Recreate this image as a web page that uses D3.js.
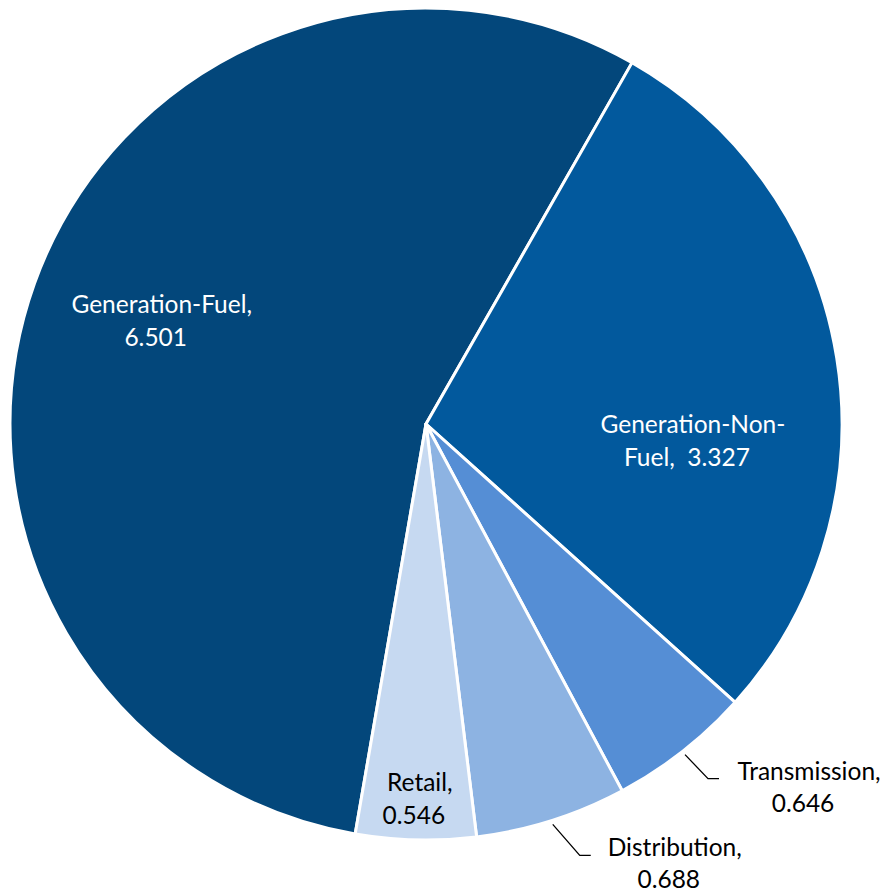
<!DOCTYPE html>
<html>
<head>
<meta charset="utf-8">
<script src="https://cdn.jsdelivr.net/npm/d3@7"></script>
<style>
  body { margin: 0; background: #fff; }
  svg text { font-family: Lato, "Open Sans", sans-serif; white-space: pre; }
</style>
</head>
<body>
<svg width="884" height="895"></svg>
<script>
// slices in drawing order, clockwise
var categories = ["Generation-Fuel", "Generation-Non-Fuel", "Transmission", "Distribution", "Retail"];
var values = [6.501, 3.327, 0.646, 0.688, 0.546];
var colors = ["#03477b", "#02599d", "#558ed5", "#8db3e2", "#c6d9f1"];
// label lines as shown in the chart
var labelLines = [
  ["Generation-Fuel,", "6.501"],
  ["Generation-Non-", "Fuel,  3.327"],
  ["Transmission,", "0.646"],
  ["Distribution,", "0.688"],
  ["Retail,", "0.546"]
];
var outside = [false, false, true, true, false];

var svg = d3.select("svg"),
  cx = 426, cy = 424, radius = 416,
  g = svg.append("g").attr("transform", "translate(" + cx + "," + cy + ")");

var data = categories.map(function(c, i) {
  return { name: c, value: values[i], color: colors[i], lines: labelLines[i], outside: outside[i] };
});

var start = 189.8 * Math.PI / 180;
var pie = d3.pie()
  .sort(null)
  .value(function(d) { return d.value; })
  .startAngle(start)
  .endAngle(start + 2 * Math.PI);

var arc = d3.arc().innerRadius(0).outerRadius(radius);
var arcs = pie(data);

g.selectAll("path.slice")
  .data(arcs)
  .enter()
  .append("path")
  .attr("class", "slice")
  .attr("d", arc)
  .style("fill", function(d) { return d.data.color; })
  .style("stroke", "#fff")
  .style("stroke-width", 3)
  .style("stroke-linejoin", "round");

function polar(a, r) {
  return [r * Math.sin(a), -r * Math.cos(a)];
}
function mid(d) { return (d.startAngle + d.endAngle) / 2; }

// inside labels: placed along a radius, nudged a little like the original
var insideOffset = {
  "Generation-Fuel": { r: 0.675, da: 0.0, dx: 0, dy: -8 },
  "Generation-Non-Fuel": { r: 0.643, da: 0.225, dx: 0, dy: 0 },
  "Retail": { r: 0.903, da: 0.0, dx: 3, dy: 0 }
};
// outside labels: leader line elbow and text shift
var outsideOffset = {
  "Transmission": { ex: 23, ey: 24, tx: 90 },
  "Distribution": { ex: 27, ey: 31, tx: 84 }
};

var lineGap = 33;
var fontSize = "24.5px";

arcs.forEach(function(d) {
  var lbl = g.append("g").attr("class", "label");
  if (!d.data.outside) {
    var o = insideOffset[d.data.name];
    var p = polar(mid(d) + o.da, radius * o.r);
    var x = p[0] + o.dx, y = p[1] + o.dy;
    var dark = d.data.name == "Retail";
    lbl.selectAll("text")
      .data(d.data.lines)
      .enter()
      .append("text")
      .attr("x", function(t, i) { return x - i * 6; })
      .attr("y", function(t, i) { return y + (i - 0.5) * lineGap + 8; })
      .attr("text-anchor", "middle")
      .style("font-size", fontSize)
      .style("fill", dark ? "#000" : "#fff")
      .text(function(t) { return t; });
  } else {
    var o = outsideOffset[d.data.name];
    var p0 = polar(mid(d), radius + 4);
    var p1 = [p0[0] + o.ex, p0[1] + o.ey];
    var p2 = [p1[0] + 11, p1[1]];
    lbl.append("path")
      .attr("d", d3.line()([p0, p1, p2]))
      .style("fill", "none")
      .style("stroke", "#000")
      .style("stroke-width", 1.3);
    var tx = p2[0] + o.tx;
    lbl.selectAll("text")
      .data(d.data.lines)
      .enter()
      .append("text")
      .attr("x", function(t, i) { return tx - i * 6; })
      .attr("y", function(t, i) { return p2[1] + 1 + i * 32; })
      .attr("text-anchor", "middle")
      .style("font-size", fontSize)
      .style("fill", "#000")
      .text(function(t) { return t; });
  }
});
</script>
</body>
</html>
